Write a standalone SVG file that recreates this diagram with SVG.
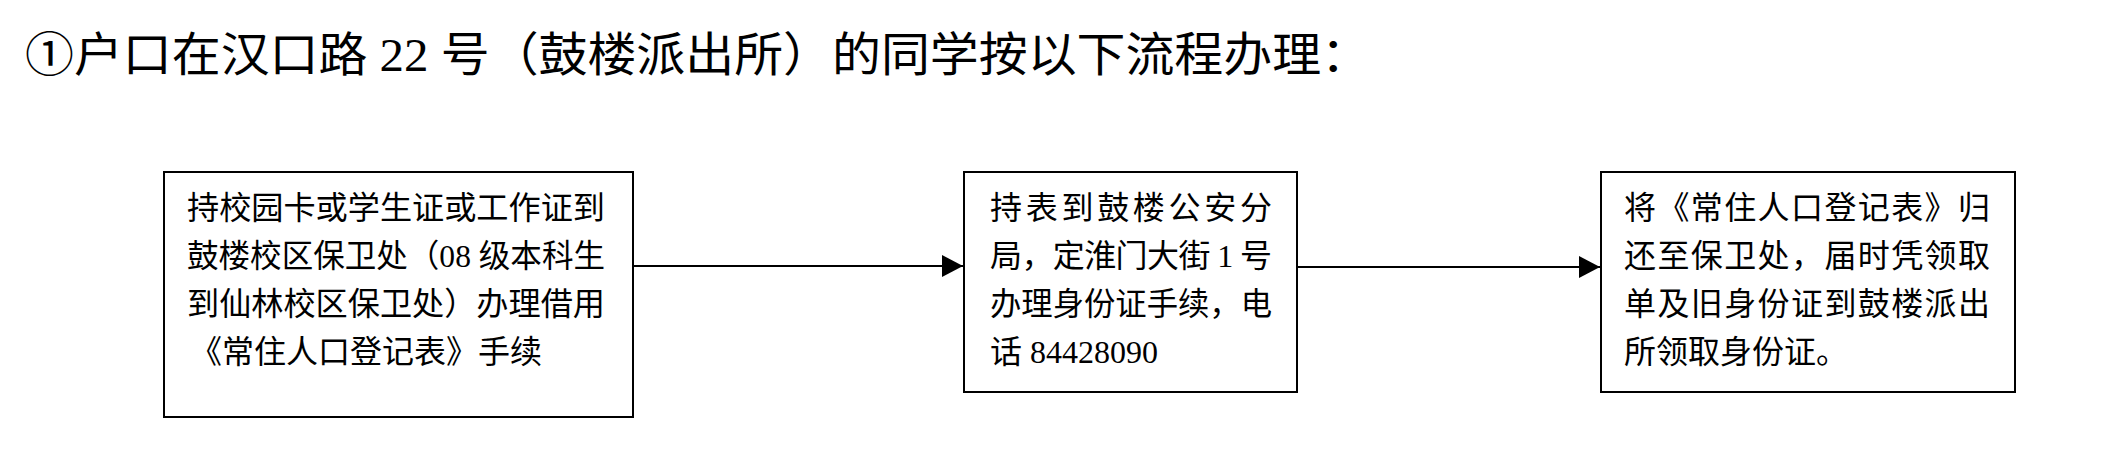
<svg xmlns="http://www.w3.org/2000/svg" width="2114" height="468" viewBox="0 0 2114 468">
<style>
.t{font-family:"Liberation Serif","Noto Sans CJK SC",serif;fill:#000}
.title{font-size:47px}
.b{font-size:32px}
.box{fill:#fff;stroke:#000;stroke-width:2}
.conn{stroke:#000;stroke-width:2;fill:none}
</style>
<defs>
<marker id="arr" markerUnits="userSpaceOnUse" markerWidth="22" markerHeight="22" refX="21" refY="11" orient="auto">
<path d="M0,0 L21,11 L0,22 z" fill="#000"/>
</marker>
</defs>
<rect width="2114" height="468" fill="#fff"/>
<text class="t title" x="25" y="71" textLength="1345" lengthAdjust="spacingAndGlyphs">①户口在汉口路 22 号（鼓楼派出所）的同学按以下流程办理：</text>
<g id="connectors">
<line class="conn" x1="633" y1="266" x2="963" y2="266" marker-end="url(#arr)"/>
<line class="conn" x1="1297" y1="267" x2="1600" y2="267" marker-end="url(#arr)"/>
</g>
<g id="node1">
<rect class="box" x="164" y="172" width="469" height="245"/>
<text class="t b" x="187" y="219" textLength="418" lengthAdjust="spacingAndGlyphs">持校园卡或学生证或工作证到</text>
<text class="t b" x="187" y="267" textLength="418" lengthAdjust="spacingAndGlyphs">鼓楼校区保卫处（08 级本科生</text>
<text class="t b" x="187" y="315" textLength="418" lengthAdjust="spacingAndGlyphs">到仙林校区保卫处）办理借用</text>
<text class="t b" x="190" y="363">《常住人口登记表》手续</text>
</g>
<g id="node2">
<rect class="box" x="964" y="172" width="333" height="220"/>
<text class="t b" x="990" y="219" textLength="282" lengthAdjust="spacing">持表到鼓楼公安分</text>
<text class="t b" x="990" y="267" textLength="282" lengthAdjust="spacing">局，定淮门大街 1 号</text>
<text class="t b" x="990" y="315" textLength="282" lengthAdjust="spacingAndGlyphs">办理身份证手续，电</text>
<text class="t b" x="990" y="363">话 84428090</text>
</g>
<g id="node3">
<rect class="box" x="1601" y="172" width="414" height="220"/>
<text class="t b" x="1624" y="219" textLength="366" lengthAdjust="spacing">将《常住人口登记表》归</text>
<text class="t b" x="1624" y="267" textLength="366" lengthAdjust="spacing">还至保卫处，届时凭领取</text>
<text class="t b" x="1624" y="315" textLength="366" lengthAdjust="spacing">单及旧身份证到鼓楼派出</text>
<text class="t b" x="1624" y="363">所领取身份证。</text>
</g>
</svg>
